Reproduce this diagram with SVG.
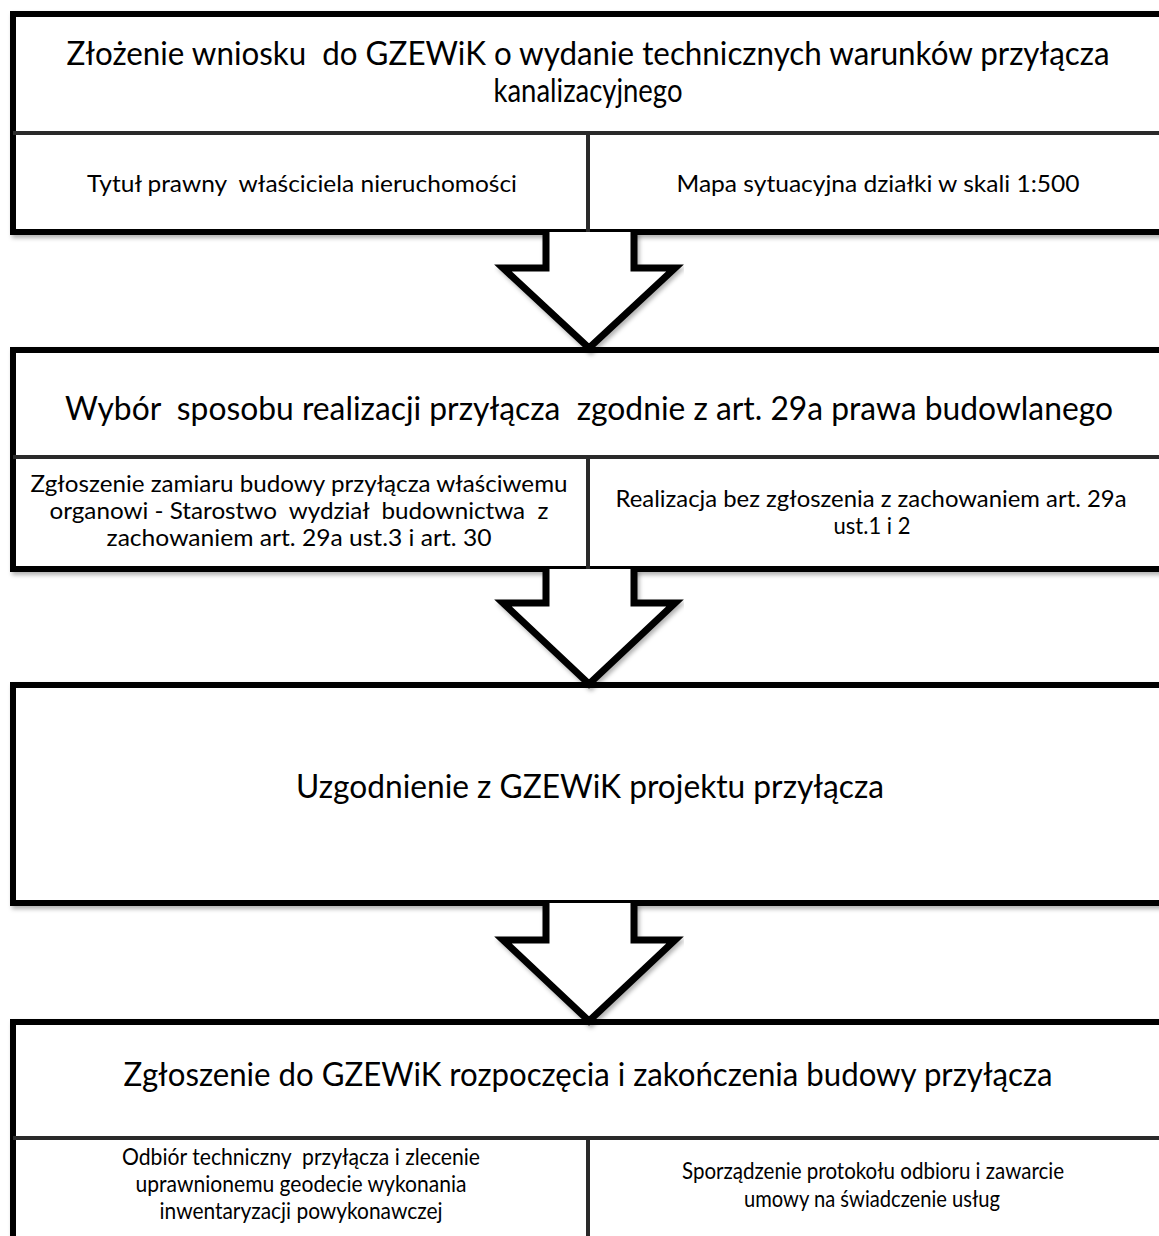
<svg xmlns="http://www.w3.org/2000/svg" width="1159" height="1236" viewBox="0 0 1159 1236">
<defs>
<filter id="sh" x="-5%" y="-5%" width="110%" height="115%">
<feDropShadow dx="2" dy="3" stdDeviation="2" flood-color="#000" flood-opacity="0.3"/>
</filter>
<style>
.box{fill:#fff;stroke:#000;stroke-width:6;}
.div{stroke:#2a2a2a;stroke-width:4;fill:none;}
.arr{fill:#fff;stroke:#000;stroke-width:7;stroke-linejoin:miter;stroke-miterlimit:4;}
text{font-family:Lato,"Liberation Sans",sans-serif;fill:#000;text-anchor:middle;white-space:pre;}
.t{font-size:32px;}
.s{font-size:23px;}
</style>
</defs>
<rect width="1159" height="1236" fill="#fff"/>

<g id="node1">
<rect class="box" x="13" y="14" width="1160" height="218" filter="url(#sh)"/>
<line class="div" x1="13" y1="133" x2="1173" y2="133"/>
<line class="div" x1="588" y1="133" x2="588" y2="232"/>
<text class="t" x="588" y="65" textLength="1043" lengthAdjust="spacingAndGlyphs">Złożenie wniosku  do GZEWiK o wydanie technicznych warunków przyłącza</text>
<text class="t" x="588" y="102" textLength="189" lengthAdjust="spacingAndGlyphs">kanalizacyjnego</text>
<text class="s" x="302" y="192" textLength="430" lengthAdjust="spacingAndGlyphs">Tytuł prawny  właściciela nieruchomości</text>
<text class="s" x="878" y="192" textLength="403" lengthAdjust="spacingAndGlyphs">Mapa sytuacyjna działki w skali 1:500</text>
</g>

<g id="node2">
<rect class="box" x="13" y="350" width="1160" height="219" filter="url(#sh)"/>
<line class="div" x1="13" y1="457" x2="1173" y2="457"/>
<line class="div" x1="588" y1="457" x2="588" y2="569"/>
<text class="t" x="589" y="420" textLength="1048" lengthAdjust="spacingAndGlyphs">Wybór  sposobu realizacji przyłącza  zgodnie z art. 29a prawa budowlanego</text>
<text class="s" x="299" y="492" textLength="537" lengthAdjust="spacingAndGlyphs">Zgłoszenie zamiaru budowy przyłącza właściwemu</text>
<text class="s" x="299" y="519" textLength="499" lengthAdjust="spacingAndGlyphs">organowi - Starostwo  wydział  budownictwa  z</text>
<text class="s" x="299" y="546" textLength="385" lengthAdjust="spacingAndGlyphs">zachowaniem art. 29a ust.3 i art. 30</text>
<text class="s" x="871" y="507" textLength="511" lengthAdjust="spacingAndGlyphs">Realizacja bez zgłoszenia z zachowaniem art. 29a</text>
<text class="s" x="872" y="534" textLength="77" lengthAdjust="spacingAndGlyphs">ust.1 i 2</text>
</g>

<g id="node3">
<rect class="box" x="13" y="685" width="1160" height="218" filter="url(#sh)"/>
<text class="t" x="590" y="798" textLength="588" lengthAdjust="spacingAndGlyphs">Uzgodnienie z GZEWiK projektu przyłącza</text>
</g>

<g id="node4">
<rect class="box" x="13" y="1022" width="1160" height="230" filter="url(#sh)"/>
<line class="div" x1="13" y1="1138" x2="1173" y2="1138"/>
<line class="div" x1="588" y1="1138" x2="588" y2="1252"/>
<text class="t" x="588" y="1086" textLength="929" lengthAdjust="spacingAndGlyphs">Zgłoszenie do GZEWiK rozpoczęcia i zakończenia budowy przyłącza</text>
<text class="s" x="301" y="1165" textLength="358" lengthAdjust="spacingAndGlyphs">Odbiór techniczny  przyłącza i zlecenie</text>
<text class="s" x="301" y="1192" textLength="331" lengthAdjust="spacingAndGlyphs">uprawnionemu geodecie wykonania</text>
<text class="s" x="301" y="1219" textLength="283" lengthAdjust="spacingAndGlyphs">inwentaryzacji powykonawczej</text>
<text class="s" x="873" y="1179" textLength="382" lengthAdjust="spacingAndGlyphs">Sporządzenie protokołu odbioru i zawarcie</text>
<text class="s" x="872" y="1207" textLength="256" lengthAdjust="spacingAndGlyphs">umowy na świadczenie usług</text>
</g>

<g id="connectors">
<path class="arr" filter="url(#sh)" d="M546,232 L546,268 L503,268 L589,348 L675,268 L634,268 L634,232"/>
<path class="arr" filter="url(#sh)" d="M546,569 L546,603 L503,603 L589,684 L675,603 L634,603 L634,569"/>
<path class="arr" filter="url(#sh)" d="M546,903 L546,940 L503,940 L589,1021 L675,940 L634,940 L634,903"/>
</g>
</svg>
